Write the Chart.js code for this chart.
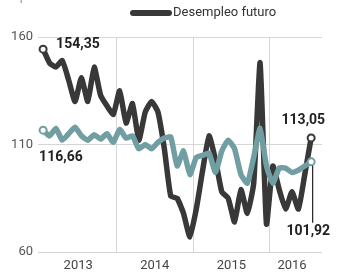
<!DOCTYPE html>
<html>
<head>
<meta charset="utf-8">
<script src="https://cdn.jsdelivr.net/npm/chart.js@4"></script>
<style>
  html, body { margin: 0; padding: 0; background: #fff; }
  #wrap { position: relative; width: 350px; height: 274px; }
</style>
</head>
<body>
<div id="wrap"><canvas id="graph"></canvas></div>
<script>
const months = [
  '2013-01','2013-02','2013-03','2013-04','2013-05','2013-06','2013-07','2013-08','2013-09','2013-10','2013-11','2013-12',
  '2014-01','2014-02','2014-03','2014-04','2014-05','2014-06','2014-07','2014-08','2014-09','2014-10','2014-11','2014-12',
  '2015-01','2015-02','2015-03','2015-04','2015-05','2015-06','2015-07','2015-08','2015-09','2015-10','2015-11','2015-12',
  '2016-01','2016-02','2016-03','2016-04','2016-05','2016-06','2016-07'
];
const desempleoFuturo = [
  154.35, 148, 146, 149, 140, 130, 141, 130, 146, 133, 128, 124,
  135, 120, 129, 112, 125, 130, 125, 108, 86, 85, 78, 67,
  80, 98, 114, 103, 88, 85, 74, 89, 78, 92, 148, 73,
  100, 89, 80, 88, 80, 96, 113.05
];
const otraSerie = [
  116.66, 114, 117.5, 112, 115, 118, 114, 112, 114.5, 112.5, 115, 111,
  117, 113, 114, 108, 110, 108, 111, 113, 113.5, 100, 107, 96,
  104, 105, 106, 97, 107, 112, 108, 96, 92, 104, 117.5, 100,
  92, 99, 99, 97, 98, 100, 101.92
];
const yTicks = [60, 110, 160];
const years = ['2013', '2014', '2015', '2016'];

const dark = '#383838';
const teal = '#719ea3';
const last = months.length - 1;

const toPoints = arr => arr.map((v, i) => ({ x: i, y: v }));
const fmt = v => v.toFixed(2).replace('.', ',');

// year boundaries and year centres in month-index units
const yearOf = m => m.slice(0, 4);
const firstIdx = years.map(y => months.findIndex(m => yearOf(m) === y));
const lastIdx = years.map(y => months.length - 1 - [...months].reverse().findIndex(m => yearOf(m) === y));
const boundaries = firstIdx.slice(1).map(i => i - 0.5);
const centres = years.map((y, k) => (firstIdx[k] + lastIdx[k]) / 2);

const endRadius = ctx => (ctx.dataIndex === 0 || ctx.dataIndex === last) ? 3.5 : 0;

const extras = {
  id: 'extras',
  afterDraw(chart) {
    const c = chart.ctx;
    const xs = chart.scales.x;
    const ys = chart.scales.y;
    c.save();

    // year labels
    c.font = '13px Roboto';
    c.fillStyle = '#444';
    c.textAlign = 'center';
    c.textBaseline = 'middle';
    years.forEach((y, k) => c.fillText(y, xs.getPixelForValue(centres[k]), 266));

    // legend
    c.strokeStyle = dark;
    c.lineWidth = 6;
    c.lineCap = 'round';
    c.beginPath();
    c.moveTo(133, 13);
    c.lineTo(169, 13);
    c.stroke();
    c.font = '13px Roboto';
    c.fillStyle = '#333';
    c.textAlign = 'left';
    c.fillText('Desempleo futuro', 173, 13);
    c.fillStyle = '#999';
    c.fillText('En puntos', 2, -3);

    // value labels
    c.font = 'bold 14px Roboto';
    c.fillStyle = '#222';
    const dx0 = xs.getPixelForValue(0);
    const dxN = xs.getPixelForValue(last);
    c.textAlign = 'left';
    c.fillText(fmt(desempleoFuturo[0]), dx0 + 13, ys.getPixelForValue(desempleoFuturo[0]) - 5);
    c.fillText(fmt(otraSerie[0]), dx0 - 4, ys.getPixelForValue(otraSerie[0]) + 27);
    c.textAlign = 'right';
    c.fillText(fmt(desempleoFuturo[last]), dxN + 14, ys.getPixelForValue(desempleoFuturo[last]) - 17);
    const tEnd = ys.getPixelForValue(otraSerie[last]);
    c.fillText(fmt(otraSerie[last]), dxN + 19, tEnd + 70);

    c.strokeStyle = '#222';
    c.lineWidth = 1.2;
    c.lineCap = 'butt';
    c.beginPath();
    c.moveTo(dxN + 1.5, tEnd + 4);
    c.lineTo(dxN + 1.5, tEnd + 61);
    c.stroke();
    c.restore();
  }
};

new Chart(document.getElementById('graph'), {
  type: 'line',
  data: {
    datasets: [
      {
        label: 'Serie 2',
        data: toPoints(otraSerie),
        borderColor: teal,
        borderWidth: 5.5,
        tension: 0.15,
        borderJoinStyle: 'round',
        borderCapStyle: 'round',
        pointRadius: endRadius,
        pointBackgroundColor: '#fff',
        pointBorderColor: teal,
        pointBorderWidth: 2,
        order: 0,
      },
      {
        label: 'Desempleo futuro',
        data: toPoints(desempleoFuturo),
        borderColor: dark,
        borderWidth: 5.5,
        tension: 0.15,
        borderJoinStyle: 'round',
        borderCapStyle: 'round',
        pointRadius: endRadius,
        pointBackgroundColor: '#fff',
        pointBorderColor: dark,
        pointBorderWidth: 2,
        order: 1,
      },
    ],
  },
  options: {
    responsive: true,
    maintainAspectRatio: false,
    animation: false,
    layout: { padding: { top: 37, right: 28, bottom: 22, left: 0 } },
    plugins: { legend: { display: false }, tooltip: { enabled: false } },
    scales: {
      x: {
        type: 'linear',
        min: -0.8,
        max: 43.7,
        afterBuildTicks: s => { s.ticks = boundaries.map(v => ({ value: v })); },
        afterFit: s => { s.height = 0; },
        ticks: { display: false },
        grid: { color: '#d6d6d6', drawTicks: false },
        border: { display: false },
      },
      y: {
        min: 60,
        max: 160,
        afterBuildTicks: s => { s.ticks = yTicks.map(v => ({ value: v })); },
        afterFit: s => { s.width = 38; },
        ticks: { color: '#555', font: { family: 'Roboto', size: 13 }, padding: 5 },
        grid: { color: '#d6d6d6', drawTicks: false },
        border: { display: false },
      },
    },
  },
  plugins: [extras],
});
</script>
</body>
</html>
